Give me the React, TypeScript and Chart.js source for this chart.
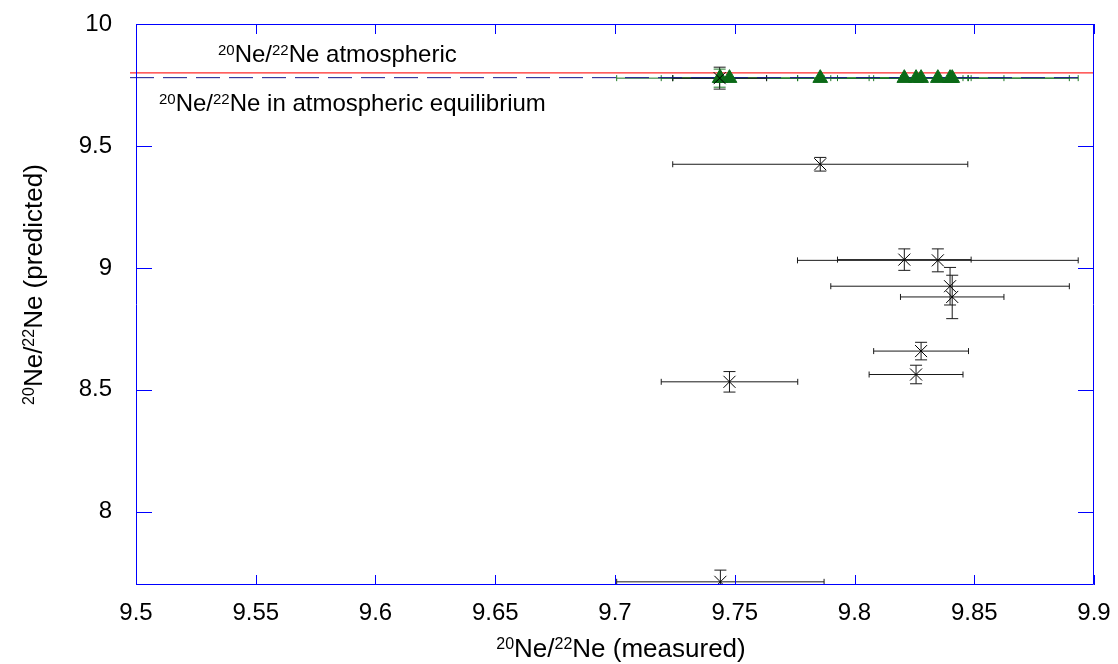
import React, { useEffect, useRef } from 'react';
import { Chart, registerables } from 'chart.js';

Chart.register(...registerables);

// ---- data ----
const measured = [9.7437, 9.744, 9.7478, 9.7857, 9.8208, 9.8257, 9.8278, 9.8348, 9.8399, 9.8408];
const measuredErr = [0.0196, 0.0433, 0.0285, 0.0616, 0.0279, 0.0196, 0.0198, 0.0586, 0.0498, 0.0216];
const predicted = [9.778, 7.713, 8.533, 9.425, 9.034, 8.563, 8.659, 9.031, 8.925, 8.881];
const predictedErr = [0.045, 0.048, 0.042, 0.028, 0.044, 0.038, 0.036, 0.047, 0.077, 0.089];
const equilibriumPred = [9.778, 9.778, 9.778, 9.778, 9.778, 9.778, 9.778, 9.778, 9.778, 9.778];
const equilibriumErr = [0.037, 0, 0, 0, 0, 0, 0, 0, 0, 0];
const atmosphericRatio = 9.8;
const equilibriumRatio = 9.78;
const redLineX = [9.4975, 9.9];
const dashedLineX = [9.4975, 9.8935];
const xTickValues = [9.5, 9.55, 9.6, 9.65, 9.7, 9.75, 9.8, 9.85, 9.9];
const xTickLabels = ['9.5', '9.55', '9.6', '9.65', '9.7', '9.75', '9.8', '9.85', '9.9'];
const yTickValues = [8, 8.5, 9, 9.5, 10];
const yTickLabels = ['8', '8.5', '9', '9.5', '10'];

const FONT = '"Liberation Sans", Arial, Helvetica, sans-serif';
const AXIS_BLUE = '#0000ff';
const GREEN = '#0b6a17';
const GREEN_BAR = '#1d7a26';

type Part = { t: string; sup?: boolean };

function drawRich(ctx: CanvasRenderingContext2D, parts: Part[], x: number, y: number, size: number, align: 'left' | 'center') {
  const supSize = Math.round(size * 0.63);
  const widths = parts.map((p) => {
    ctx.font = `${p.sup ? supSize : size}px ${FONT}`;
    return ctx.measureText(p.t).width;
  });
  const total = widths.reduce((a, b) => a + b, 0);
  let cx = align === 'center' ? x - total / 2 : x;
  ctx.textBaseline = 'alphabetic';
  ctx.textAlign = 'left';
  parts.forEach((p, i) => {
    ctx.font = `${p.sup ? supSize : size}px ${FONT}`;
    ctx.fillText(p.t, cx, p.sup ? y - size * 0.3 : y);
    cx += widths[i];
  });
}

const errorBars = {
  id: 'errorBars',
  beforeDatasetsDraw(chart: any) {
    const { ctx, chartArea, scales } = chart;
    const xs = scales.x;
    const ys = scales.y;
    ctx.save();
    ctx.beginPath();
    ctx.rect(chartArea.left, chartArea.top, chartArea.right - chartArea.left, chartArea.bottom - chartArea.top);
    ctx.clip();
    const drawSet = (yv: number[], ye: number[], color: string) => {
      ctx.strokeStyle = color;
      ctx.lineWidth = 1;
      for (let i = 0; i < measured.length; i++) {
        const px = xs.getPixelForValue(measured[i]);
        const py = ys.getPixelForValue(yv[i]);
        const x0 = xs.getPixelForValue(measured[i] - measuredErr[i]);
        const x1 = xs.getPixelForValue(measured[i] + measuredErr[i]);
        ctx.beginPath();
        ctx.moveTo(x0, py);
        ctx.lineTo(x1, py);
        ctx.moveTo(x0, py - 3);
        ctx.lineTo(x0, py + 3);
        ctx.moveTo(x1, py - 3);
        ctx.lineTo(x1, py + 3);
        if (ye[i] > 0) {
          const y0 = ys.getPixelForValue(yv[i] + ye[i]);
          const y1 = ys.getPixelForValue(yv[i] - ye[i]);
          ctx.moveTo(px, y0);
          ctx.lineTo(px, y1);
          ctx.moveTo(px - 6, y0);
          ctx.lineTo(px + 6, y0);
          ctx.moveTo(px - 6, y1);
          ctx.lineTo(px + 6, y1);
        }
        ctx.stroke();
      }
    };
    drawSet(equilibriumPred, equilibriumErr, GREEN_BAR);
    drawSet(predicted, predictedErr, '#1a1a1a');
    ctx.restore();
  },
};

const frame = {
  id: 'frame',
  afterDraw(chart: any) {
    const { ctx, chartArea, scales } = chart;
    const { left, right, top, bottom } = chartArea;
    ctx.save();
    ctx.strokeStyle = AXIS_BLUE;
    ctx.lineWidth = 1;
    ctx.beginPath();
    ctx.rect(left + 0.5, top + 0.5, right - left - 1, bottom - top - 1);
    xTickValues.forEach((v) => {
      const px = Math.round(scales.x.getPixelForValue(v)) + 0.5;
      ctx.moveTo(px, bottom);
      ctx.lineTo(px, bottom - 10);
      ctx.moveTo(px, top);
      ctx.lineTo(px, top + 10);
    });
    yTickValues.forEach((v) => {
      const py = Math.round(scales.y.getPixelForValue(v)) + 0.5;
      ctx.moveTo(left, py);
      ctx.lineTo(left + 16, py);
      ctx.moveTo(right, py);
      ctx.lineTo(right - 16, py);
    });
    ctx.stroke();

    ctx.fillStyle = '#000';
    drawRich(ctx, [{ t: '20', sup: true }, { t: 'Ne/' }, { t: '22', sup: true }, { t: 'Ne atmospheric' }], left + 82, top + 38, 24, 'left');
    drawRich(ctx, [{ t: '20', sup: true }, { t: 'Ne/' }, { t: '22', sup: true }, { t: 'Ne in atmospheric equilibrium' }], left + 23, top + 87, 24, 'left');
    drawRich(ctx, [{ t: '20', sup: true }, { t: 'Ne/' }, { t: '22', sup: true }, { t: 'Ne (measured)' }], (left + right) / 2 + 6, 657, 26, 'center');
    ctx.save();
    ctx.translate(42, (top + bottom) / 2 - 20);
    ctx.rotate(-Math.PI / 2);
    drawRich(ctx, [{ t: '20', sup: true }, { t: 'Ne/' }, { t: '22', sup: true }, { t: 'Ne (predicted)' }], 0, 0, 26, 'center');
    ctx.restore();
    ctx.restore();
  },
};

export default function App() {
  const ref = useRef<HTMLCanvasElement | null>(null);
  useEffect(() => {
    if (!ref.current) return;
    const chart = new Chart(ref.current, {
      type: 'scatter',
      data: {
        datasets: [
          {
            label: 'predicted',
            data: measured.map((x, i) => ({ x, y: predicted[i] })),
            pointStyle: 'crossRot',
            pointRadius: 8.5,
            borderColor: '#000',
            backgroundColor: '#000',
            borderWidth: 1,
          },
          {
            label: 'equilibrium',
            data: measured.map((x, i) => ({ x, y: equilibriumPred[i] })),
            pointStyle: 'triangle',
            pointRadius: 8.5,
            borderColor: GREEN,
            backgroundColor: GREEN,
            borderWidth: 1,
          },
          {
            type: 'line',
            label: 'equilibrium line',
            data: dashedLineX.map((x) => ({ x, y: equilibriumRatio })),
            borderColor: '#14148c',
            borderWidth: 1,
            borderDash: [24, 9],
            pointRadius: 0,
            clip: false,
          } as any,
          {
            type: 'line',
            label: 'atmospheric line',
            data: redLineX.map((x) => ({ x, y: atmosphericRatio })),
            borderColor: '#ff2a2a',
            borderWidth: 1.2,
            pointRadius: 0,
            clip: false,
          } as any,
        ],
      },
      options: {
        animation: false,
        responsive: false,
        devicePixelRatio: 1,
        layout: { padding: { top: 24, right: 24, left: 0, bottom: 0 } },
        plugins: { legend: { display: false }, tooltip: { enabled: false } },
        scales: {
          x: {
            type: 'linear',
            min: 9.5,
            max: 9.9,
            grid: { display: false, drawTicks: false },
            border: { display: false },
            afterBuildTicks: (s: any) => {
              s.ticks = xTickValues.map((value) => ({ value }));
            },
            afterFit: (s: any) => {
              s.height = 79;
              s.paddingLeft = 0;
              s.paddingRight = 0;
            },
            ticks: {
              autoSkip: false,
              maxRotation: 0,
              padding: 14,
              color: '#000',
              font: { family: FONT, size: 24 },
              callback: (_v: any, i: number) => xTickLabels[i],
            },
          },
          y: {
            type: 'linear',
            min: 7.7,
            max: 10,
            grid: { display: false, drawTicks: false },
            border: { display: false },
            afterBuildTicks: (s: any) => {
              s.ticks = yTickValues.map((value) => ({ value }));
            },
            afterFit: (s: any) => {
              s.width = 136;
              s.paddingTop = 0;
              s.paddingBottom = 0;
            },
            ticks: {
              autoSkip: false,
              padding: 24,
              color: '#000',
              font: { family: FONT, size: 24 },
              callback: (_v: any, i: number) => yTickLabels[i],
            },
          },
        },
      },
      plugins: [errorBars, frame],
    });
    return () => chart.destroy();
  }, []);
  return (
    <div style={{ position: 'absolute', left: 0, top: 0, width: 1118, height: 664, background: '#fff' }}>
      <canvas ref={ref} width={1118} height={664} />
    </div>
  );
}
